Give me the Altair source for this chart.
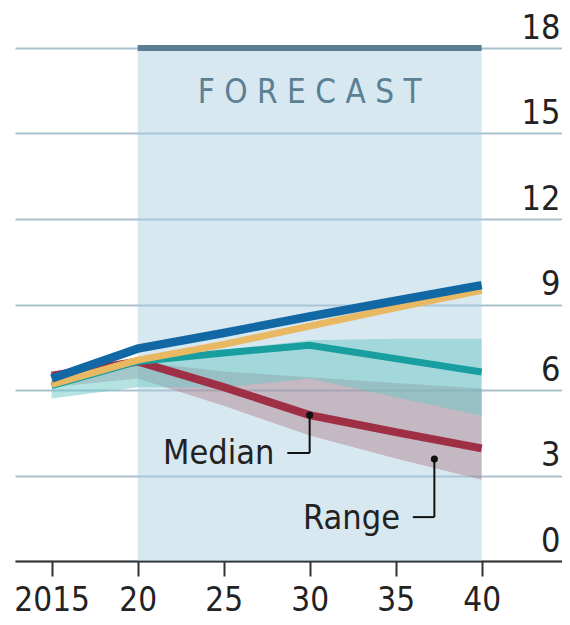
import altair as alt
import pandas as pd

# ---- data ----
years = [2015, 2020, 2025, 2030, 2035, 2040]
blue = [6.4, 7.45, 8.0, 8.58, 9.13, 9.68]
orange = [6.2, 7.05, 7.6, 8.24, 8.88, 9.5]
teal = [6.15, 7.0, 7.3, 7.57, 7.1, 6.63]
red = [6.5, 7.0, 6.1, 5.12, 4.52, 3.95]
teal_lo = [5.7, 6.1, 6.1, 6.4, 5.75, 5.1]
teal_hi = [6.3, 7.1, 7.4, 7.75, 7.8, 7.8]
red_lo = [6.1, 6.4, 5.45, 4.4, 3.6, 2.85]
red_hi = [6.4, 7.0, 6.65, 6.45, 6.25, 6.05]

forecast_range = [2020, 2040]
forecast_label = "F O R E C A S T"
x_ticks = [2015, 2020, 2025, 2030, 2035, 2040]
y_ticks = [0, 3, 6, 9, 12, 15, 18]

# annotation anchors (data coordinates)
median_dot = [2030, 5.12]
median_corner = [2030, 3.79]
median_end = [2028.7, 3.79]
median_text = ["Median", 2027.95, 3.4]
range_dot = [2037.25, 3.58]
range_corner = [2037.25, 1.54]
range_end = [2036.0, 1.54]
range_text = ["Range", 2035.25, 1.12]

FONT = "DejaVu Sans Condensed, DejaVu Sans, sans-serif"

XS = alt.Scale(domain=[2012.87, 2044.67], nice=False, zero=False)
YS = alt.Scale(domain=[0, 18], nice=False, zero=True)

X_AX = alt.Axis(
    values=x_ticks, format="d",
    labelExpr="datum.value == 2015 ? '2015' : slice(datum.label, 2)",
    grid=False, domain=True, domainColor="#333333", domainWidth=2,
    ticks=True, tickColor="#333333", tickWidth=2, tickSize=15,
    labelPadding=8, labelFont=FONT, labelFontSize=33, labelColor="#222222",
    labelFlush=False, labelOverlap=False, title=None,
)
Y_AX = alt.Axis(
    orient="right", values=y_ticks, grid=True, gridColor="#a9c1ce", gridWidth=2,
    domain=False, ticks=False, tickSize=0, labelPadding=-2, labelOffset=-10,
    labelAlign="right", labelBaseline="alphabetic",
    labelFont=FONT, labelFontSize=34, labelColor="#222222", title=None,
)

def X(field):
    return alt.X(field, type="quantitative", scale=XS, axis=X_AX)

def Y(field):
    return alt.Y(field, type="quantitative", scale=YS, axis=Y_AX)

df = pd.DataFrame({
    "year": years, "blue": blue, "orange": orange, "teal": teal, "red": red,
    "teal_lo": teal_lo, "teal_hi": teal_hi, "red_lo": red_lo, "red_hi": red_hi,
})

fc = pd.DataFrame({"x": [forecast_range[0]], "x2": [forecast_range[1]], "y": [0], "y2": [18]})

shade = alt.Chart(fc).mark_rect(color="#a8cde0", opacity=0.45).encode(
    x=X("x"), x2="x2", y=Y("y"), y2="y2"
)
bar = alt.Chart(fc).mark_rule(color="#5b7d91", strokeWidth=6).encode(
    x=X("x"), x2="x2", y=Y("y2")
)
fc_text = alt.Chart(pd.DataFrame({
    "t": [forecast_label], "x": [sum(forecast_range) / 2], "y": [16.06]
})).mark_text(
    font=FONT, fontSize=33, color="#5b8094", align="center", baseline="alphabetic"
).encode(x=X("x"), y=Y("y"), text="t:N")

pink_band = alt.Chart(df).mark_area(color="#a8707f", opacity=0.4).encode(
    x=X("year"), y=Y("red_lo"), y2="red_hi"
)
teal_band = alt.Chart(df).mark_area(color="#6cc8c6", opacity=0.5).encode(
    x=X("year"), y=Y("teal_lo"), y2="teal_hi"
)

def line(field, color, width):
    return alt.Chart(df).mark_line(color=color, strokeWidth=width, strokeCap="butt").encode(
        x=X("year"), y=Y(field)
    )

lines = [
    line("red", "#9e2f45", 8),
    line("teal", "#189e9e", 7),
    line("orange", "#e9b863", 7),
    line("blue", "#1268a4", 8.5),
]

lead = pd.DataFrame({
    "x": [median_dot[0], median_end[0], range_dot[0], range_end[0]],
    "x2": [median_corner[0], median_corner[0], range_corner[0], range_corner[0]],
    "y": [median_dot[1], median_corner[1], range_dot[1], range_corner[1]],
    "y2": [median_corner[1], median_corner[1], range_corner[1], range_corner[1]],
})
leaders = alt.Chart(lead).mark_rule(color="#111111", strokeWidth=2).encode(
    x=X("x"), x2="x2", y=Y("y"), y2="y2"
)
dots = alt.Chart(pd.DataFrame({
    "x": [median_dot[0], range_dot[0]], "y": [median_dot[1], range_dot[1]]
})).mark_circle(color="#111111", opacity=1, size=50).encode(x=X("x"), y=Y("y"))

labels = alt.Chart(pd.DataFrame({
    "t": [median_text[0], range_text[0]],
    "x": [median_text[1], range_text[1]],
    "y": [median_text[2], range_text[2]],
})).mark_text(
    font=FONT, fontSize=34, color="#222222", align="right", baseline="alphabetic"
).encode(x=X("x"), y=Y("y"), text="t:N")

chart = alt.layer(
    shade, bar, fc_text, pink_band, teal_band, *lines, leaders, dots, labels
).properties(
    width=547, height=513,
    autosize=alt.AutoSizeParams(type="none"),
    padding={"left": 7, "top": 40, "right": 0, "bottom": 56},
    background="white",
).configure_view(stroke=None)

chart.save("out.html", embed_options={"renderer": "svg", "actions": False})
